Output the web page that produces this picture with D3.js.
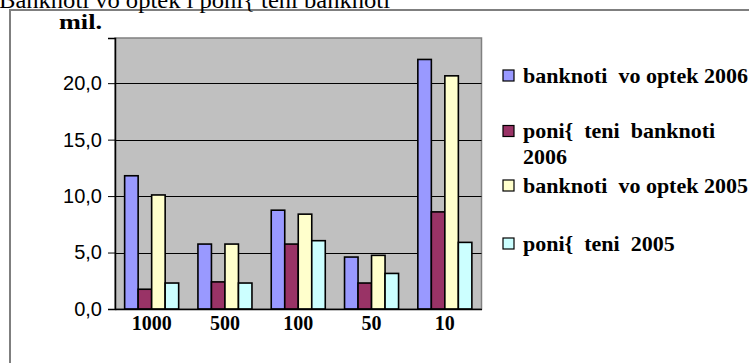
<!DOCTYPE html>
<html><head><meta charset="utf-8">
<script src="https://cdn.jsdelivr.net/npm/d3@7"></script>
<style>body{margin:0;background:#fff;} svg{display:block;}</style>
</head><body>
<script>
const titleText = "Banknoti vo optek i poni{ teni banknoti";
const unitLabel = "mil.";
const categories = ["1000", "500", "100", "50", "10"];
const seriesNames = ["banknoti vo optek 2006", "poni{ teni banknoti 2006", "banknoti vo optek 2005", "poni{ teni 2005"];
const legendLines = [["banknoti  vo optek 2006"], ["poni{  teni  banknoti", "2006"], ["banknoti  vo optek 2005"], ["poni{  teni  2005"]];
const colors = ["#9999ff", "#993366", "#ffffcc", "#ccffff"];
const banknoti2006 = [11.8, 5.75, 8.75, 4.6, 22.1];
const ponisteni2006 = [1.75, 2.4, 5.75, 2.3, 8.6];
const banknoti2005 = [10.1, 5.75, 8.4, 4.75, 20.65];
const ponisteni2005 = [2.3, 2.3, 6.05, 3.15, 5.9];
const yTicks = [0, 5, 10, 15, 20];
const yMax = 24;

const series = [banknoti2006, ponisteni2006, banknoti2005, ponisteni2005];

const W = 749, H = 363;
const svg = d3.select("body").append("svg").attr("width", W).attr("height", H);
svg.append("rect").attr("width", W).attr("height", H).attr("fill", "#fff");

// outer chart border (extends beyond the view)
svg.append("rect").attr("x", 10).attr("y", 10).attr("width", 900).attr("height", 500)
  .attr("fill", "none").attr("stroke", "#7f7f7f").attr("stroke-width", 2);

// title (cut at the top, as in the reference)
svg.append("text").attr("x", -1).attr("y", 7.5)
  .attr("font-family", "'Liberation Serif', serif").attr("font-size", 24)
  .attr("textLength", 391).attr("lengthAdjust", "spacingAndGlyphs")
  .text(titleText);

svg.append("text").attr("x", 59).attr("y", 28.5)
  .attr("font-family", "'Liberation Serif', serif").attr("font-weight", "bold").attr("font-size", 20)
  .attr("textLength", 43).attr("lengthAdjust", "spacingAndGlyphs")
  .text(unitLabel);

const plot = {left: 115, right: 481.5, top: 38, bottom: 309};

const y = d3.scaleLinear().domain([0, yMax]).range([plot.bottom, plot.top]);
const x = d3.scaleBand().domain(categories).range([plot.left, plot.right])
  .paddingInner(0.263).paddingOuter(0.1315);
const xs = d3.scaleBand().domain(d3.range(series.length)).range([0, x.bandwidth()]);

// plot area
svg.append("rect").attr("x", plot.left).attr("y", plot.top)
  .attr("width", plot.right - plot.left).attr("height", plot.bottom - plot.top)
  .attr("fill", "#c0c0c0").attr("stroke", "#808080").attr("stroke-width", 1.5);

// gridlines
svg.append("g").selectAll("line").data(yTicks.filter(d => d > 0)).join("line")
  .attr("x1", plot.left).attr("x2", plot.right)
  .attr("y1", d => Math.round(y(d)) + 0.5).attr("y2", d => Math.round(y(d)) + 0.5)
  .attr("stroke", "#000").attr("stroke-width", 1);

// bars
const g = svg.append("g");
series.forEach((vals, si) => {
  g.append("g").selectAll("rect").data(vals).join("rect")
    .attr("x", (d, i) => x(categories[i]) + xs(si))
    .attr("y", d => y(d))
    .attr("width", xs.bandwidth())
    .attr("height", d => y(0) - y(d))
    .attr("fill", colors[si]).attr("stroke", "#000").attr("stroke-width", 1.6);
});

// y axis
const yAxis = svg.append("g").attr("transform", `translate(${plot.left},0)`)
  .call(d3.axisLeft(y).tickValues(yTicks).tickSize(7).tickPadding(6)
    .tickFormat(d => d3.format(".1f")(d).replace(".", ",")));
yAxis.selectAll("path.domain").attr("stroke", "#000").attr("stroke-width", 1.5);
yAxis.selectAll(".tick line").attr("stroke", "#000");
yAxis.selectAll("text").attr("font-family", "'Liberation Sans', Arial, sans-serif")
  .attr("font-size", 20).attr("fill", "#000");

// x axis
const xAxis = svg.append("g").attr("transform", `translate(0,${plot.bottom})`)
  .call(d3.axisBottom(x).tickSize(0).tickPadding(7));
xAxis.selectAll("path.domain").attr("stroke", "#000").attr("stroke-width", 1.5);
xAxis.selectAll("text").attr("font-family", "'Liberation Serif', serif")
  .attr("font-weight", "bold").attr("font-size", 20).attr("fill", "#000");

// legend
const legendY = [75.5, 131, 185.5, 243.5];
const lg = svg.append("g");
seriesNames.forEach((name, i) => {
  const item = lg.append("g").attr("transform", `translate(503,${legendY[i]})`);
  item.append("rect").attr("x", 0).attr("y", -5.5).attr("width", 11).attr("height", 11)
    .attr("fill", colors[i]).attr("stroke", "#000").attr("stroke-width", 1.2);
  const t = item.append("text").attr("x", 20).attr("y", 7)
    .attr("font-family", "'Liberation Serif', serif").attr("font-weight", "bold")
    .attr("font-size", 22).attr("fill", "#000").style("white-space", "pre");
  legendLines[i].forEach((ln, j) => {
    t.append("tspan").attr("x", 20).attr("dy", j === 0 ? 0 : 26).text(ln);
  });
});
</script>
</body></html>
